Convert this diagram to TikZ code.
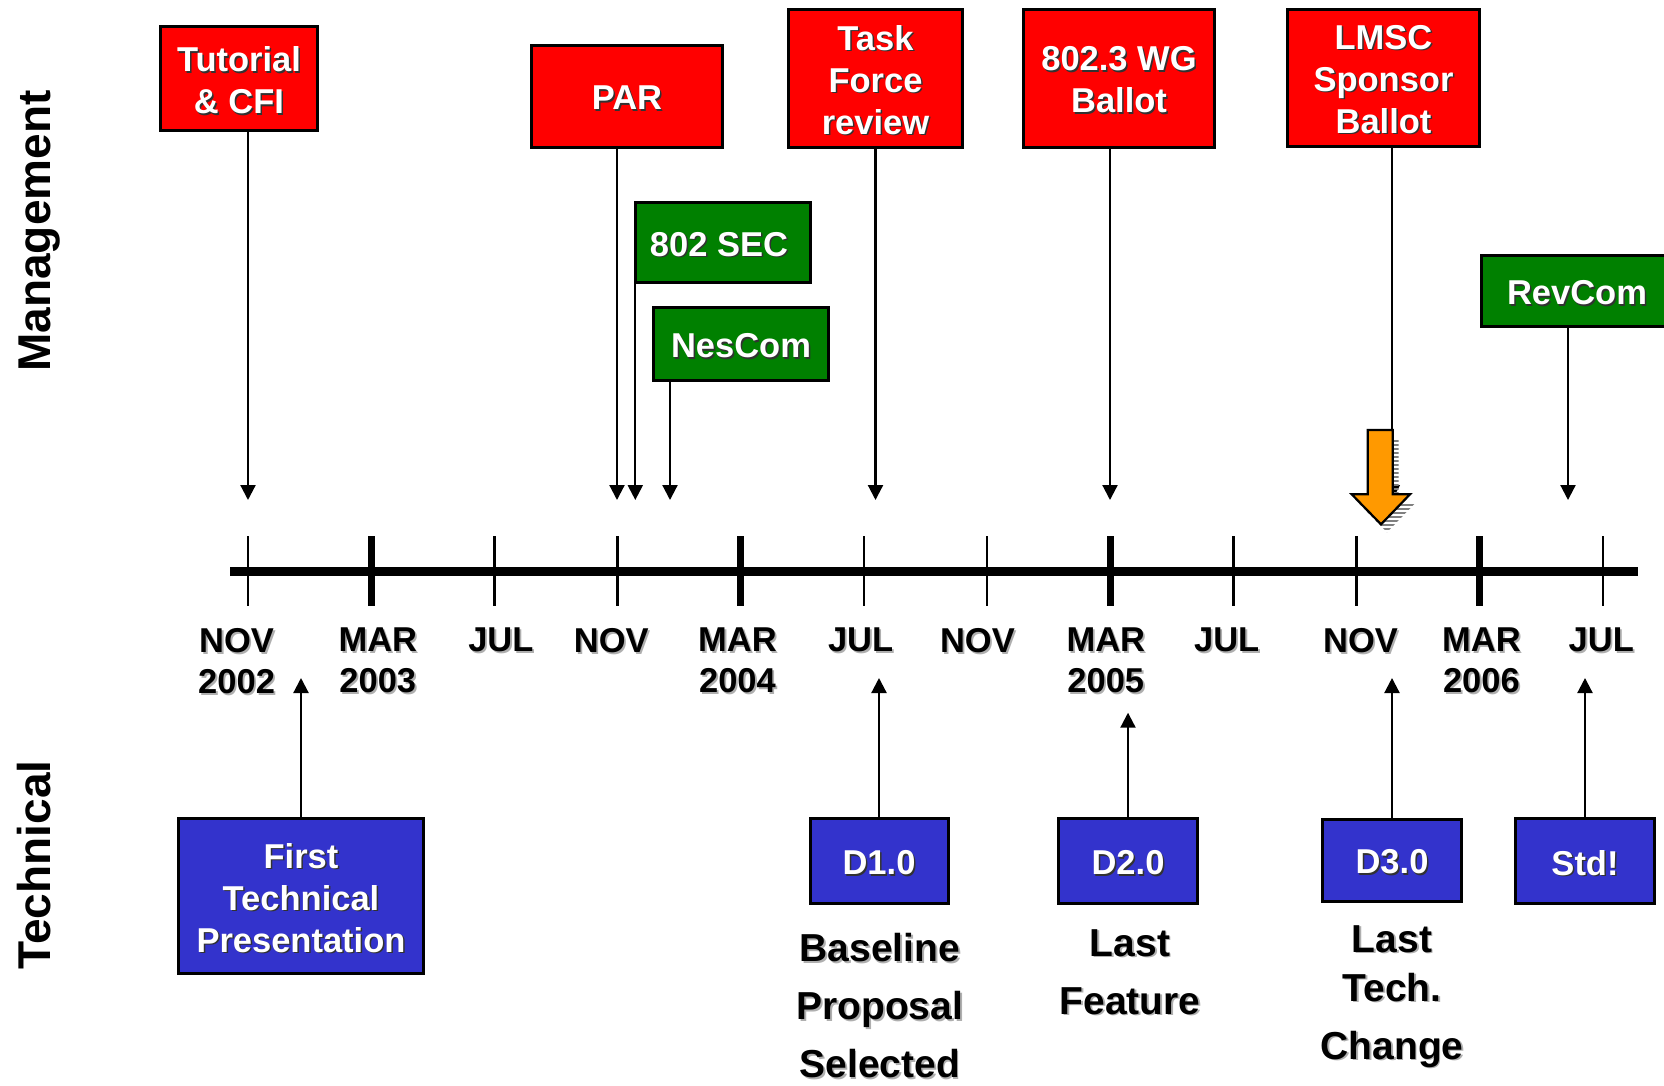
\documentclass[tikz,border=0pt]{standalone}
\usepackage{fontspec}
\setmainfont{Liberation Sans}
\usetikzlibrary{arrows.meta,patterns.meta}
\definecolor{msred}{RGB}{255,0,0}
\definecolor{msgreen}{RGB}{0,128,0}
\definecolor{msblue}{RGB}{51,51,204}
\definecolor{msorange}{RGB}{255,153,0}
\definecolor{wshadow}{RGB}{50,50,50}
\definecolor{kshadow}{RGB}{175,175,175}
\newcommand\wsh[1]{\raisebox{-2.5bp}[\height][\depth]{\rlap{\kern1.5bp\raisebox{-1.5bp}{\color{wshadow}#1}}#1}}
\newcommand\ksh[1]{\rlap{\kern1.8bp\raisebox{-1.8bp}{\color{kshadow}#1}}#1}

\begin{document}
\begin{tikzpicture}[x=1bp,y=-1bp,
   font=\bfseries\fontsize{34.5bp}{42bp}\selectfont,
   box/.style={draw=black,line width=3bp,text=white,align=center,inner sep=0pt},
   redbox/.style={box,fill=msred},
   greenbox/.style={box,fill=msgreen},
   bluebox/.style={box,fill=msblue},
   datelbl/.style={anchor=north,inner sep=0pt,align=center,font=\bfseries\fontsize{34.5bp}{41bp}\selectfont},
   capt/.style={anchor=north,inner sep=0pt,align=center,font=\bfseries\fontsize{39bp}{58bp}\selectfont},
   sidelbl/.style={rotate=90,anchor=base,inner sep=0pt,font=\bfseries\fontsize{46bp}{50bp}\selectfont},
   down/.style={-{Triangle[width=15bp,length=15bp]},line width=2.2bp},
   up/.style={-{Triangle[width=15bp,length=15bp]},line width=2.2bp}]
\useasboundingbox (0,0) rectangle (1664,1085);
\node[sidelbl] (mg) at (50,231) {Management};
\node[sidelbl] (tc) at (50,865) {Technical};
\node[redbox,minimum width=157bp,minimum height=104bp] (tut) at (239,78.5) {\wsh{Tutorial}\\\wsh{\& CFI}};
\node[redbox,minimum width=191bp,minimum height=102bp] (par) at (627,96) {\wsh{PAR}};
\node[redbox,minimum width=174bp,minimum height=138bp] (tf) at (875.5,78) {\wsh{Task}\\\wsh{Force}\\\wsh{review}};
\node[redbox,minimum width=191bp,minimum height=138bp] (wg) at (1119,78) {\wsh{802.3 WG}\\\wsh{Ballot}};
\node[redbox,minimum width=192bp,minimum height=137bp] (lmsc) at (1383.5,77.5) {\wsh{LMSC}\\\wsh{Sponsor}\\\wsh{Ballot}};
\node[greenbox,minimum width=175bp,minimum height=80bp] (sec) at (723,242.5) {\wsh{802 SEC}\hspace{8bp}};
\node[greenbox,minimum width=175bp,minimum height=73bp] (nes) at (741,344) {\wsh{NesCom}};
\node[greenbox,minimum width=191bp,minimum height=71bp] (rev) at (1577,291) {\wsh{RevCom}};
\node[bluebox,minimum width=245bp,minimum height=155bp] (first) at (301,896) {\wsh{First}\\\wsh{Technical}\\\wsh{Presentation}};
\node[bluebox,minimum width=138bp,minimum height=85bp] (d1) at (879,861) {\wsh{D1.0}};
\node[bluebox,minimum width=139bp,minimum height=85bp] (d2) at (1128,861) {\wsh{D2.0}};
\node[bluebox,minimum width=139bp,minimum height=82bp] (d3) at (1392,860) {\wsh{D3.0}};
\node[bluebox,minimum width=139bp,minimum height=85bp] (std) at (1585,861) {\wsh{Std!}};
\node[capt] (bps) at (879.7,933) {\ksh{Baseline}\\\ksh{Proposal}\\\ksh{Selected}};
\node[capt] (lf) at (1130,929) {\ksh{Last}\\\ksh{Feature}};
\node[capt] (ltc) at (1392,925) {\ksh{Last}\\[-9bp]\ksh{Tech.}\\\ksh{Change}};
\coordinate (axl) at (230,571);
\coordinate (axr) at (1638,571);
\draw[line width=9bp] (axl) -- (axr);
\draw[line width=2.5bp] (248,536) -- (248,606);
\draw[line width=7bp] (371.2,536) -- (371.2,606);
\draw[line width=2.5bp] (494.4,536) -- (494.4,606);
\draw[line width=2.5bp] (617.5,536) -- (617.5,606);
\draw[line width=7bp] (740.7,536) -- (740.7,606);
\draw[line width=2.5bp] (863.9,536) -- (863.9,606);
\draw[line width=2.5bp] (987.1,536) -- (987.1,606);
\draw[line width=7bp] (1110.3,536) -- (1110.3,606);
\draw[line width=2.5bp] (1233.4,536) -- (1233.4,606);
\draw[line width=2.5bp] (1356.6,536) -- (1356.6,606);
\draw[line width=7bp] (1479.8,536) -- (1479.8,606);
\draw[line width=2.5bp] (1603,536) -- (1603,606);
\node[datelbl] (m0) at (236.6,628) {\ksh{NOV}\\\ksh{2002}};
\node[datelbl] (m1) at (377.8,628) {\ksh{MAR}\\\ksh{2003}};
\node[datelbl] (m2) at (500.9,628) {\ksh{JUL}};
\node[datelbl] (m3) at (611.3,628) {\ksh{NOV}};
\node[datelbl] (m4) at (737.5,628) {\ksh{MAR}\\\ksh{2004}};
\node[datelbl] (m5) at (860.6,628) {\ksh{JUL}};
\node[datelbl] (m6) at (977.4,628) {\ksh{NOV}};
\node[datelbl] (m7) at (1105.8,628) {\ksh{MAR}\\\ksh{2005}};
\node[datelbl] (m8) at (1226.7,628) {\ksh{JUL}};
\node[datelbl] (m9) at (1360.5,628) {\ksh{NOV}};
\node[datelbl] (m10) at (1481.4,628) {\ksh{MAR}\\\ksh{2006}};
\node[datelbl] (m11) at (1601.3,628) {\ksh{JUL}};
\coordinate (tut-a) at (248,500);
\coordinate (par-a) at (617,500);
\coordinate (sec-a) at (635.3,500);
\coordinate (nes-a) at (670,500);
\coordinate (tf-a) at (875.5,500);
\coordinate (wg-a) at (1110,500);
\coordinate (lmsc-a) at (1392.3,500);
\coordinate (rev-a) at (1568,500);
\draw[down] (tut-a |- tut.south) -- (tut-a);
\draw[down] (par-a |- par.south) -- (par-a);
\draw[down] (sec-a |- sec.south) -- (sec-a);
\draw[down] (nes-a |- nes.south) -- (nes-a);
\draw[down] (tf.south) -- (tf-a);
\draw[down] (wg-a |- wg.south) -- (wg-a);
\draw[down] (lmsc-a |- lmsc.south) -- (lmsc-a);
\draw[down] (rev-a |- rev.south) -- (rev-a);
\coordinate (first-a) at (301,678);
\coordinate (d1-a) at (879,678);
\coordinate (d2-a) at (1128,712.7);
\coordinate (d3-a) at (1392,678);
\coordinate (std-a) at (1585,678);
\draw[up] (first.north) -- (first-a);
\draw[up] (d1.north) -- (d1-a);
\draw[up] (d2.north) -- (d2-a);
\draw[up] (d3.north) -- (d3-a);
\draw[up] (std.north) -- (std-a);
\fill[pattern={Lines[angle=0,distance=4bp,line width=2bp]},pattern color=gray,shift={(6,8)}] (1367.7,430) -- (1392.7,430) -- (1392.7,494.3) -- (1410,494.3) -- (1381,524.3) -- (1351.7,494.3) -- (1367.7,494.3) -- cycle;
\draw[fill=msorange,line width=2.2bp,line join=miter] (1367.7,430) -- (1392.7,430) -- (1392.7,494.3) -- (1410,494.3) -- (1381,524.3) -- (1351.7,494.3) -- (1367.7,494.3) -- cycle;
\end{tikzpicture}
\end{document}
